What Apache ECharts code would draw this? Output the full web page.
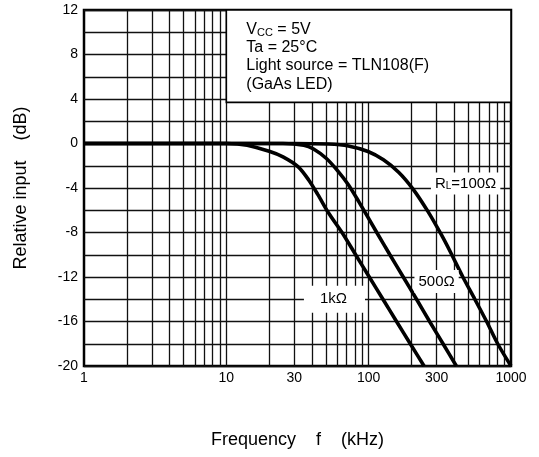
<!DOCTYPE html>
<html>
<head>
<meta charset="utf-8">
<script src="https://cdn.jsdelivr.net/npm/echarts@6/dist/echarts.min.js"></script>
<style>
html,body{margin:0;padding:0;background:#fff;}
#main{width:539px;height:457px;}
</style>
</head>
<body>
<div id="main"></div>
<script>
// frequency (kHz) , relative input (dB)
const curve100 = [[1,0],[30,0],[52,-0.05],[72,-0.22],[99,-0.72],[127,-1.47],[163,-2.6],[205,-4.1],[262,-6.15],[324,-8.2],[370,-9.6],[459,-12],[557,-14],[674,-16],[806,-18],[1000,-20]];
const curve500 = [[1,0],[10,0],[25,0],[35,-0.15],[41,-0.5],[50.5,-1.35],[61,-2.5],[72,-3.7],[85,-5.2],[114,-8],[141,-10],[175,-12],[217,-14],[268,-16],[333,-18],[413,-20]];
const curve1k = [[1,0],[10,0],[14,-0.15],[20,-0.7],[25,-1.2],[32,-2.1],[38,-3.3],[44,-4.6],[52,-6.2],[65,-8],[81,-10],[101,-12],[126,-14],[157,-16],[196,-18],[245,-20]];

const xTickLabels = [1, 10, 30, 100, 300, 1000];
const xGridLines = [2,3,4,5,6,7,8,9,10,20,30,40,50,60,70,80,90,100,200,300,400,500,600,700,800,900];
const yTicks = {min: -20, max: 12, step: 2, labelStep: 4};

const conditions = ['V_CC = 5V', 'Ta = 25°C', 'Light source = TLN108(F)', '(GaAs LED)'];

const font = 'Liberation Sans, Arial, sans-serif';

let chart = echarts.init(document.getElementById('main'));

let vLines = [];
xGridLines.forEach(function (f) { vLines.push({xAxis: f}); });
let tickMarks = [];
xTickLabels.forEach(function (f) {
  tickMarks.push({xAxis: f, lineStyle: {width: 0}, label: {show: true, formatter: String(f)}});
});

function curve(data, extra) {
  return Object.assign({
    type: 'line',
    data: data,
    smooth: 0.3,
    showSymbol: false,
    symbol: 'none',
    silent: true,
    lineStyle: {color: '#000', width: 3.6},
    z: 5
  }, extra || {});
}

let option = {
  animation: false,
  backgroundColor: '#fff',
  grid: {
    left: 84, right: 28, top: 10, bottom: 91,
    show: true, borderColor: '#000', borderWidth: 2.5, backgroundColor: 'transparent'
  },
  xAxis: {
    type: 'log', logBase: 10, min: 1, max: 1000,
    name: 'Frequency    f    (kHz)',
    nameLocation: 'middle', nameGap: 65,
    nameTextStyle: {fontFamily: font, fontSize: 18, color: '#000'},
    axisLine: {show: false},
    axisTick: {show: false},
    axisLabel: {show: false},
    splitLine: {show: false}
  },
  yAxis: {
    type: 'value', min: yTicks.min, max: yTicks.max, interval: yTicks.step,
    name: 'Relative input    (dB)',
    nameLocation: 'middle', nameGap: 54, nameRotate: 90,
    nameTextStyle: {fontFamily: font, fontSize: 18, color: '#000'},
    axisLine: {show: false},
    axisTick: {show: false},
    axisLabel: {
      fontFamily: font, fontSize: 14, color: '#000', margin: 6,
      formatter: function (v) { return v % yTicks.labelStep === 0 ? String(v) : ''; }
    },
    splitLine: {show: true, lineStyle: {color: '#111', width: 1.3}}
  },
  series: [
    curve(curve1k, {
      markLine: {
        silent: true, symbol: ['none', 'none'], animation: false,
        lineStyle: {type: 'solid', color: '#111', width: 1.3},
        label: {show: false},
        data: vLines
      }
    }),
    curve(curve500, {
      markLine: {
        silent: true, symbol: ['none', 'none'], animation: false,
        lineStyle: {width: 0},
        label: {show: true, position: 'start', distance: 5, fontFamily: font, fontSize: 14, color: '#000'},
        data: tickMarks
      }
    }),
    curve(curve100)
  ]
};

chart.setOption(option);

// annotations placed in data coordinates
function px(f, v) { return chart.convertToPixel({gridIndex: 0}, [f, v]); }

let boxTL = px(10, 12);
let boxBR = px(1000, 3.7);
let textX = boxTL[0] + 20;
let lineYs = [30, 47.5, 66, 85];

let graphics = [
  {
    type: 'rect', z: 50,
    shape: {x: boxTL[0], y: boxTL[1], width: boxBR[0] - boxTL[0], height: boxBR[1] - boxTL[1]},
    style: {fill: '#fff', stroke: '#000', lineWidth: 1.6}
  },
  {
    type: 'text', z: 51, x: textX, y: lineYs[0],
    style: {
      text: '{a|V}{s|CC}{a| = 5V}', verticalAlign: 'middle',
      rich: {
        a: {fontFamily: font, fontSize: 16, fill: '#000'},
        s: {fontFamily: font, fontSize: 11, fill: '#000', padding: [6, 0, 0, 0]}
      }
    }
  }
];
conditions.slice(1).forEach(function (t, i) {
  graphics.push({
    type: 'text', z: 51, x: textX, y: lineYs[i + 1],
    style: {text: t, fontFamily: font, fontSize: 16, fill: '#000', verticalAlign: 'middle'}
  });
});

function tag(f, v, text, rich, pad) {
  let p = px(f, v);
  return {
    type: 'text', z: 40, x: p[0], y: p[1],
    style: Object.assign({
      text: text, fontFamily: font, fontSize: 15, fill: '#000',
      align: 'center', verticalAlign: 'middle',
      backgroundColor: '#fff', padding: pad
    }, rich ? {rich: rich} : {})
  };
}

graphics.push(tag(480, -3.6, '{a|R}{s|L}{a|=100Ω}', {
  a: {fontFamily: font, fontSize: 15, fill: '#000'},
  s: {fontFamily: font, fontSize: 10, fill: '#000', padding: [6, 0, 0, 0]}
}, [3, 4, 3, 4]));
graphics.push(tag(300, -12.4, '500Ω', null, [4, 4, 4, 4]));
graphics.push(tag(57.5, -14, '1kΩ', null, [6, 18, 6, 16]));

chart.setOption({graphic: graphics});
</script>
</body>
</html>
